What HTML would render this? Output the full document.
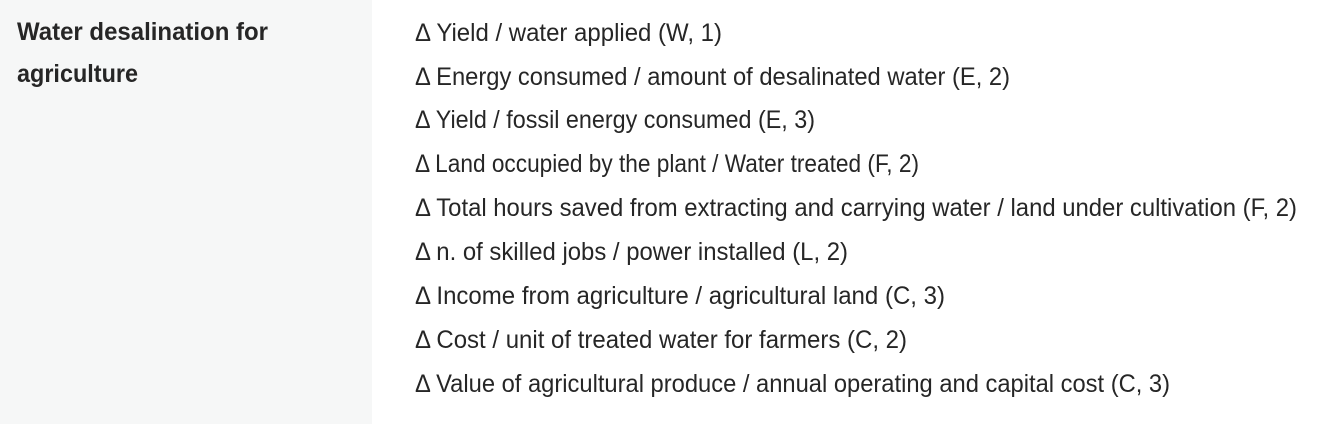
<!DOCTYPE html>
<html><head><meta charset="utf-8"><style>
html,body{margin:0;padding:0;background:#fff;}
svg{display:block;}
text{font-family:"Liberation Sans",sans-serif;fill:#262626;font-size:25px;}
</style></head><body>
<svg width="1341" height="424" viewBox="0 0 1341 424">
<rect x="0" y="0" width="372" height="424" fill="#f6f7f7"/>
<text x="17" y="40" font-weight="bold" textLength="251" lengthAdjust="spacingAndGlyphs">Water desalination for</text>
<text x="17" y="82" font-weight="bold" textLength="121" lengthAdjust="spacingAndGlyphs">agriculture</text>
<g>
<text x="415" y="41" textLength="307" lengthAdjust="spacingAndGlyphs">Δ Yield / water applied (W, 1)</text>
<text x="415" y="85" textLength="595" lengthAdjust="spacingAndGlyphs">Δ Energy consumed / amount of desalinated water (E, 2)</text>
<text x="415" y="128" textLength="400" lengthAdjust="spacingAndGlyphs">Δ Yield / fossil energy consumed (E, 3)</text>
<text x="415" y="172" textLength="504" lengthAdjust="spacingAndGlyphs">Δ Land occupied by the plant / Water treated (F, 2)</text>
<text x="415" y="216" textLength="882" lengthAdjust="spacingAndGlyphs">Δ Total hours saved from extracting and carrying water / land under cultivation (F, 2)</text>
<text x="415" y="260" textLength="433" lengthAdjust="spacingAndGlyphs">Δ n. of skilled jobs / power installed (L, 2)</text>
<text x="415" y="304" textLength="530" lengthAdjust="spacingAndGlyphs">Δ Income from agriculture / agricultural land (C, 3)</text>
<text x="415" y="348" textLength="492" lengthAdjust="spacingAndGlyphs">Δ Cost / unit of treated water for farmers (C, 2)</text>
<text x="415" y="392" textLength="755" lengthAdjust="spacingAndGlyphs">Δ Value of agricultural produce / annual operating and capital cost (C, 3)</text>
</g>
</svg>
</body></html>
